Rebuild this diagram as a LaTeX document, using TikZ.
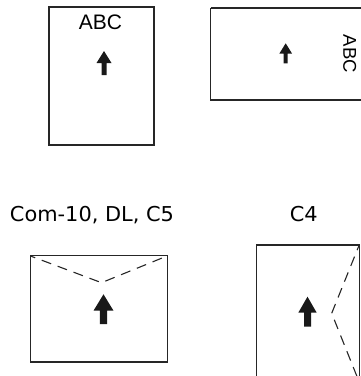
\documentclass[tikz,border=0pt]{standalone}
\usepackage{fontspec}
\setmainfont{Liberation Sans}
\newfontfamily\verd[FakeStretch=1.02]{DejaVu Sans}
\begin{document}
\begin{tikzpicture}[x=1pt,y=-1pt,
  frame/.style={draw=black!85,line width=1.4pt},
  flap/.style={draw=black!85,line width=1.1pt,dash pattern=on 10pt off 7pt,dash phase=5pt},
  arr/.style={fill=black!90,draw=none},
  abc/.style={inner sep=0pt,font=\fontsize{21}{22}\selectfont},
  lbl/.style={inner sep=0pt,font=\verd\fontsize{20.5}{22}\selectfont}]
\useasboundingbox (0,0) rectangle (361,376);
% portrait sheet
\draw[frame] (49,7) rectangle (154,145);
\node[abc,anchor=base] (abc1) at (100.5,29.3) {ABC};
\fill[arr] (104,51) -- (111.5,63) -- (106.5,63) -- (106.5,75) -- (101.5,75) -- (101.5,63) -- (96.5,63) -- cycle;
% landscape sheet
\draw[frame] (210.5,8) -- (364,8) (210.5,8) -- (210.5,100) -- (364,100);
\node[abc,anchor=base,rotate=-90,font=\fontsize{18.5}{20}\selectfont] (abc2) at (343.5,54) {ABC};
\fill[arr] (285.7,43.3) -- (292,53.5) -- (287.7,53.5) -- (287.7,63.3) -- (283.7,63.3) -- (283.7,53.5) -- (279.4,53.5) -- cycle;
% labels
\node[lbl,anchor=base] (l1) at (92,221) {Com-10, DL, C5};
\node[lbl,anchor=base] (l2) at (303.8,221) {C4};
% envelope landscape
\draw[frame] (30.5,255.5) rectangle (167.5,362);
\draw[flap] (30.5,256) -- (101.5,282.7) -- (167,256);
\fill[arr] (103.5,294.3) -- (113.5,310.7) -- (107.1,310.7) -- (107.1,324) -- (99.9,324) -- (99.9,310.7) -- (93.5,310.7) -- cycle;
% envelope portrait
\draw[frame] (256.5,245) rectangle (359.5,383);
\draw[flap] (359,245.5) -- (331.7,313.3) -- (359,381.5);
\fill[arr] (307.5,296.7) -- (316.7,312.7) -- (311,312.7) -- (311,326.7) -- (304,326.7) -- (304,312.7) -- (298.3,312.7) -- cycle;
\end{tikzpicture}
\end{document}
